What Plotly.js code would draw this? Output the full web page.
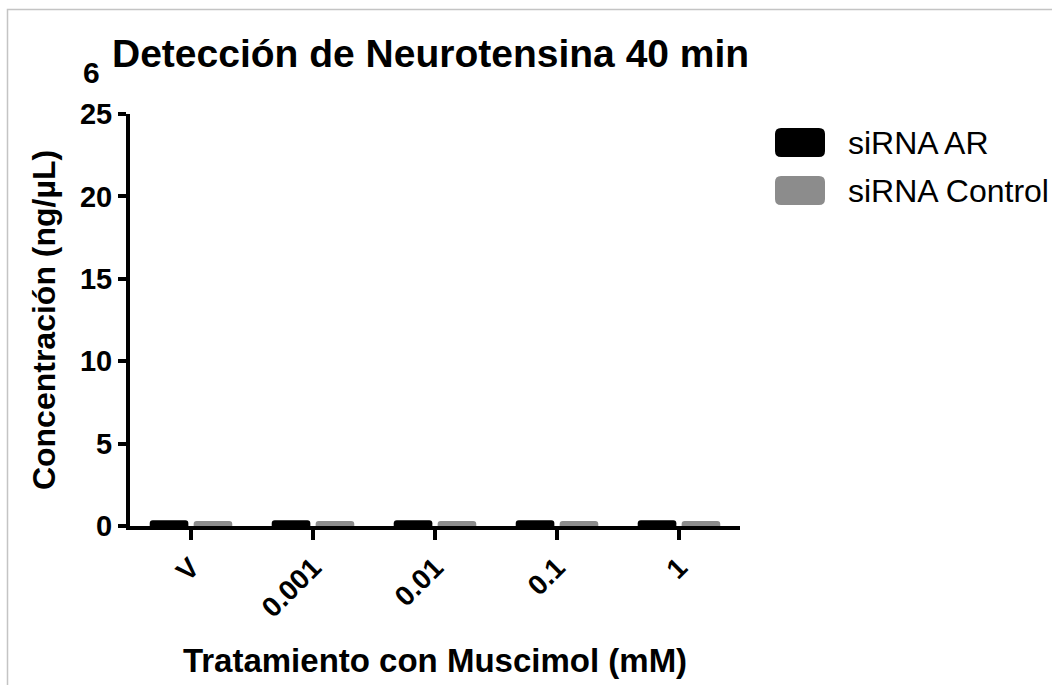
<!DOCTYPE html>
<html>
<head>
<meta charset="utf-8">
<script src="https://cdn.plot.ly/plotly-3.0.1.min.js"></script>
<style>
  html, body { margin: 0; padding: 0; background: #ffffff; }
  #chart { width: 1052px; height: 685px; }
</style>
</head>
<body>
<div id="chart"></div>
<script>
// Muscimol treatment groups (mM)
const categories = ['V', '0.001', '0.01', '0.1', '1'];

// Neurotensin concentration (ng/µL) at 40 min
const siRNA_AR = [0.35, 0.35, 0.35, 0.35, 0.35];
const siRNA_Control = [0.3, 0.3, 0.3, 0.3, 0.3];

const seriesNames = ['siRNA AR', 'siRNA Control'];
const seriesColors = ['#000000', '#8c8c8c'];

const yTicks = [0, 5, 10, 15, 20, 25];

const FONT = 'Liberation Sans, Arial, Helvetica, sans-serif';

const traces = [siRNA_AR, siRNA_Control].map((vals, i) => ({
  type: 'bar',
  x: categories,
  y: vals,
  name: seriesNames[i],
  marker: { color: seriesColors[i], line: { width: 0 }, cornerradius: 3 },
  showlegend: false,
  hoverinfo: 'x+y+name'
}));

// Plot area geometry (px) used to place the legend swatches and frame
const L = 130, R = 312, T = 114, B = 159;
const W = 1052 - L - R, H = 685 - T - B;
const px2x = p => (p - L) / W;
const py2y = p => (685 - B - p) / H;

function roundedRect(x, y, w, h, r) {
  const X = v => px2x(v), Y = v => py2y(v);
  return `M ${X(x + r)} ${Y(y)} L ${X(x + w - r)} ${Y(y)} Q ${X(x + w)} ${Y(y)} ${X(x + w)} ${Y(y + r)}` +
         ` L ${X(x + w)} ${Y(y + h - r)} Q ${X(x + w)} ${Y(y + h)} ${X(x + w - r)} ${Y(y + h)}` +
         ` L ${X(x + r)} ${Y(y + h)} Q ${X(x)} ${Y(y + h)} ${X(x)} ${Y(y + h - r)}` +
         ` L ${X(x)} ${Y(y + r)} Q ${X(x)} ${Y(y)} ${X(x + r)} ${Y(y)} Z`;
}

const legendShapes = seriesNames.map((n, i) => ({
  type: 'path',
  xref: 'paper', yref: 'paper',
  path: roundedRect(775, 128 + i * 48, 50, 29, 6),
  fillcolor: seriesColors[i],
  line: { width: 0 }
}));

const legendLabels = seriesNames.map((n, i) => ({
  xref: 'paper', yref: 'paper',
  x: px2x(846), y: py2y(143 + i * 48),
  xanchor: 'left', yanchor: 'middle',
  text: n, showarrow: false,
  font: { family: FONT, size: 32, color: '#000' }
}));

// light frame around the figure (top and left edges)
const frame = {
  type: 'path', xref: 'paper', yref: 'paper',
  path: `M ${px2x(7.5)} ${py2y(700)} L ${px2x(7.5)} ${py2y(9.5)} L ${px2x(1060)} ${py2y(9.5)}`,
  line: { color: '#c4c4c4', width: 1.5 }
};

const layout = {
  width: 1052, height: 685,
  paper_bgcolor: '#ffffff', plot_bgcolor: '#ffffff',
  margin: { l: L, r: R, t: T, b: B, pad: 0 },
  font: { family: FONT, color: '#000' },
  barmode: 'group',
  bargap: 0.28,
  bargroupgap: 0.12,
  title: {
    text: 'Detección de Neurotensina 40 min',
    font: { family: FONT, size: 39, weight: 'bold', color: '#000' },
    xref: 'container', yref: 'container',
    x: 112 / 1052, xanchor: 'left',
    y: 1 - 53 / 685, yanchor: 'middle'
  },
  xaxis: {
    type: 'category',
    range: [-0.5, 4.5],
    showline: true, linecolor: '#000', linewidth: 4,
    ticks: 'outside', ticklen: 10, tickwidth: 4, tickcolor: '#000',
    tickangle: -45,
    tickfont: { family: FONT, size: 28, weight: 'bold', color: '#000' },
    showgrid: false, zeroline: false,
    title: {
      text: 'Tratamiento con Muscimol (mM)',
      font: { family: FONT, size: 33, weight: 'bold', color: '#000' },
      standoff: 28
    }
  },
  yaxis: {
    range: [0, 25],
    tickvals: yTicks,
    ticktext: yTicks.map(String),
    showline: true, linecolor: '#000', linewidth: 4,
    ticks: 'outside', ticklen: 8, tickwidth: 4, tickcolor: '#000',
    tickfont: { family: FONT, size: 29, weight: 'bold', color: '#000' },
    showgrid: false, zeroline: false,
    title: {
      text: 'Concentración (ng/µL)',
      font: { family: FONT, size: 32, weight: 'bold', color: '#000' },
      standoff: 16
    }
  },
  shapes: [frame].concat(legendShapes),
  annotations: [{
    xref: 'paper', yref: 'paper',
    x: px2x(91), y: py2y(72),
    xanchor: 'center', yanchor: 'middle',
    text: '6', showarrow: false,
    font: { family: FONT, size: 30, weight: 'bold', color: '#000' }
  }].concat(legendLabels),
  showlegend: false
};

Plotly.newPlot('chart', traces, layout, { displayModeBar: false, staticPlot: true });
</script>
</body>
</html>
